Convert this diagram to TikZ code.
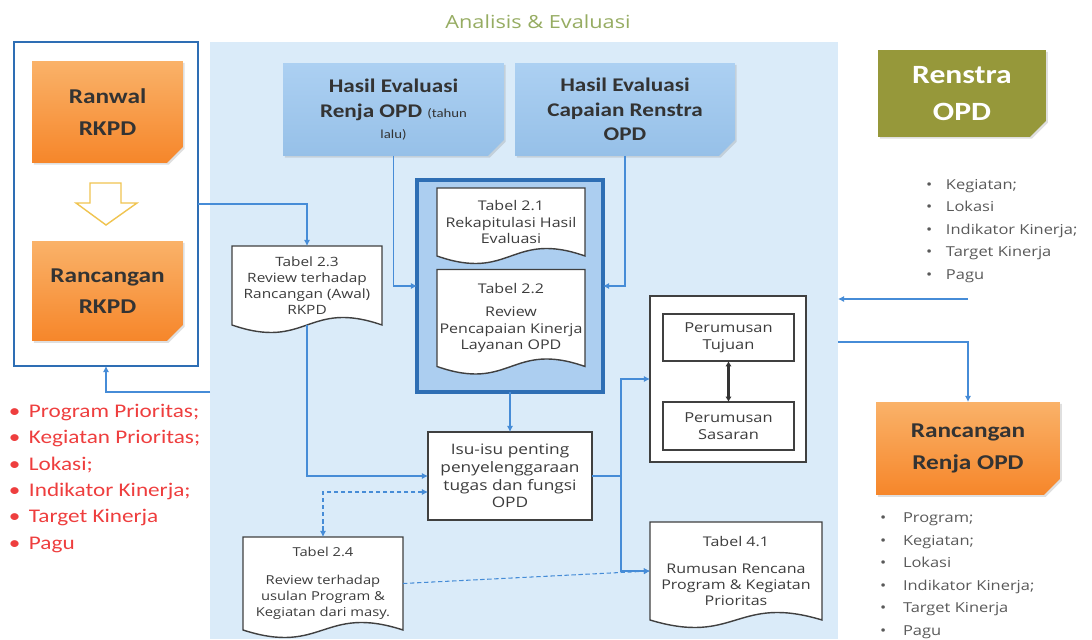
\documentclass[tikz,border=0pt]{standalone}
\usepackage{fontspec}
\setmainfont{Carlito}[FakeStretch=1.2]
\newfontfamily\segoe{Open Sans}[FakeStretch=1.2]
\usetikzlibrary{arrows.meta,positioning,calc,shapes.misc,shadows}
\definecolor{garisbiru}{RGB}{70,140,215}
\definecolor{tepibiru}{RGB}{46,110,180}
\definecolor{latarbiru}{RGB}{218,235,249}
\definecolor{wadahbiru}{RGB}{172,206,240}
\definecolor{hasilatas}{RGB}{172,208,242}
\definecolor{hasilbawah}{RGB}{150,192,232}
\definecolor{oratas}{RGB}{250,178,105}
\definecolor{orbawah}{RGB}{246,134,42}
\definecolor{zaitun}{RGB}{150,152,58}
\definecolor{judulhijau}{RGB}{150,172,98}
\definecolor{merahdaftar}{RGB}{238,62,62}
\definecolor{teksabu}{RGB}{60,60,60}
\pgfdeclarelayer{belakang}
\pgfdeclarelayer{tengah}
\pgfsetlayers{belakang,tengah,main}
\tikzset{
  panel/.style={fill=latarbiru,draw=none,inner sep=0pt,outer sep=0pt},
  bingkai/.style={draw=tepibiru,line width=1.5pt,fill=white,inner sep=0pt,outer sep=0pt},
  wadah/.style={draw=tepibiru,line width=2pt,fill=wadahbiru,inner sep=0pt,outer sep=0pt},
  lipatan/.style={chamfered rectangle,chamfered rectangle corners=south east,
                  chamfered rectangle xsep=1.6mm,chamfered rectangle ysep=1.6mm,
                  inner sep=0pt,outer sep=0pt,align=center,
                  drop shadow={opacity=0.25,shadow xshift=1pt,shadow yshift=-1pt}},
  oranye/.style={lipatan,top color=oratas,bottom color=orbawah,text=black!80,
                 font=\bfseries\fontsize{12}{18}\selectfont},
  hasil/.style={lipatan,top color=hasilatas,bottom color=hasilbawah,text=black!80,
                font=\bfseries\fontsize{11}{14}\selectfont},
  renstra/.style={lipatan,fill=zaitun,text=white,font=\bfseries\fontsize{15}{21}\selectfont},
  dok/.style={inner sep=0pt,outer sep=0pt,align=center,text=teksabu,
              font=\segoe\fontsize{7.6}{9.2}\selectfont},
  dokgaris/.style={draw=black!75,line width=0.8pt,fill=white},
  kotak/.style={draw=black!75,line width=0.8pt,fill=white,inner sep=0pt,outer sep=0pt,
                align=center,text=teksabu,font=\segoe\fontsize{7.8}{9.5}\selectfont,
                drop shadow={opacity=0.2,shadow xshift=0.8pt,shadow yshift=-0.8pt}},
  daftar/.style={inner sep=0pt,outer sep=0pt,align=left,text=black!65,
                 font=\segoe\fontsize{7.8}{12.8}\selectfont},
  merah/.style={inner sep=0pt,outer sep=0pt,align=left,text=merahdaftar,
                font=\fontsize{11}{15}\selectfont},
  panah/.style={draw=garisbiru,line width=0.6pt,-{Latex[length=3.5pt,width=3.5pt]}},
  titik/.style={draw=garisbiru,line width=0.6pt,dash pattern=on 2.5pt off 1.5pt},
  blok/.style={draw={rgb,255:red,240;green,196;blue,80},line width=0.8pt,fill=white},
}
\newcommand{\dokform}[1]{%
  \begin{pgfonlayer}{tengah}
    \draw[dokgaris] (#1.south west) -- (#1.north west) -- (#1.north east) -- (#1.south east)
      .. controls ($(#1.south)+(0,-26)$) and ($(#1.south)+(0,26)$) .. (#1.south west) -- cycle;
  \end{pgfonlayer}}
\newcommand{\butir}[1]{\makebox[#1][l]{\textbullet}}

\begin{document}
\begin{tikzpicture}[x=0.02cm,y=-0.02cm]
  \useasboundingbox (0,0) rectangle (1092,639);
  \begin{pgfonlayer}{belakang}
    \node[panel,minimum width=125.6mm,minimum height=119.4mm] (panel) at (524,340.5) {};
    \node[wadah,minimum width=37.2mm,minimum height=42.4mm] (wadah) at (510,286) {};
  \end{pgfonlayer}
  \node[text=judulhijau,font=\segoe\fontsize{10.3}{12}\selectfont] (judul) at (538,22) {Analisis \& Evaluasi};

  % kiri: RKPD
  \node[bingkai,minimum width=36.8mm,minimum height=64.8mm] (kiri) at (106,204) {};
  \node[oranye,minimum width=30.2mm,minimum height=20.4mm] (ranwal) at (107.5,112) {Ranwal\\RKPD};
  \node[oranye,minimum width=30.2mm,minimum height=20mm] (rkpd) at (107.5,291) {Rancangan\\RKPD};
  \draw[blok] (90,183) -- (121,183) -- (121,203) -- (137,203) -- (106,225) -- (76,203) -- (90,203) -- cycle;

  % atas: hasil evaluasi
  \node[hasil,minimum width=44.2mm,minimum height=18.6mm] (hasil1) at (393.5,109.5)
    {Hasil Evaluasi\\Renja OPD {\mdseries\fontsize{7}{9}\selectfont (tahun}\\[-2pt]{\mdseries\fontsize{7}{9}\selectfont lalu)}};
  \node[hasil,minimum width=44mm,minimum height=18.6mm] (hasil2) at (625,109.5)
    {Hasil Evaluasi\\Capaian Renstra\\OPD};
  \node[renstra,minimum width=33.6mm,minimum height=17.4mm] (renstra) at (962,93.5) {Renstra\\OPD};

  % tabel
  \node[dok,minimum width=30mm,minimum height=15.8mm,font=\segoe\fontsize{7.3}{9}\selectfont] (tab23) at (307,285.5)
    {Tabel 2.3\\Review terhadap\\Rancangan (Awal)\\RKPD};
  \node[dok,minimum width=29.6mm,minimum height=13.6mm] (tab21) at (511,222)
    {Tabel 2.1\\Rekapitulasi Hasil\\Evaluasi};
  \node[dok,minimum width=29.6mm,minimum height=19.4mm] (tab22) at (511,318)
    {Tabel 2.2\\[4pt]Review\\Pencapaian Kinerja\\Layanan OPD};
  \node[dok,minimum width=32mm,minimum height=18.6mm,font=\segoe\fontsize{7}{9}\selectfont] (tab24) at (323,583.5)
    {Tabel 2.4\\[7pt]Review terhadap\\usulan Program \&\\Kegiatan dari masy.};
  \node[dok,minimum width=34.4mm,minimum height=19.6mm] (tab41) at (736,571)
    {Tabel 4.1\\[6pt]Rumusan Rencana\\Program \& Kegiatan\\Prioritas};
  \dokform{tab23}
  \dokform{tab21}
  \dokform{tab22}
  \dokform{tab24}
  \dokform{tab41}

  \node[kotak,minimum width=32.8mm,minimum height=17.6mm,font=\segoe\fontsize{8.2}{10}\selectfont] (isu) at (510,476)
    {Isu-isu penting\\penyelenggaraan\\tugas dan fungsi\\OPD};
  \node[kotak,minimum width=31.2mm,minimum height=33.2mm] (luar) at (728,379) {};
  \node[kotak,minimum width=26.2mm,minimum height=9.4mm] (tujuan) at (728.5,337.5) {Perumusan\\Tujuan};
  \node[kotak,minimum width=26.2mm,minimum height=9.6mm] (sasaran) at (728.5,426) {Perumusan\\Sasaran};
  \node[oranye,minimum width=36.8mm,minimum height=18.6mm] (renja) at (968,448.5) {Rancangan\\Renja OPD};

  % daftar
  \node[merah,anchor=north west] (daftarkiri) at (9,404)
    {\butir{4mm}Program Prioritas;\\\butir{4mm}Kegiatan Prioritas;\\\butir{4mm}Lokasi;\\
     \butir{4mm}Indikator Kinerja;\\\butir{4mm}Target Kinerja\\\butir{4mm}Pagu};
  \node[daftar,anchor=north west] (daftaratas) at (926,179)
    {\butir{4mm}Kegiatan;\\\butir{4mm}Lokasi\\\butir{4mm}Indikator Kinerja;\\
     \butir{4mm}Target Kinerja\\\butir{4mm}Pagu};
  \node[daftar,anchor=north west] (daftarbawah) at (880,513)
    {\butir{4.6mm}Program;\\\butir{4.6mm}Kegiatan;\\\butir{4.6mm}Lokasi\\
     \butir{4.6mm}Indikator Kinerja;\\\butir{4.6mm}Target Kinerja\\\butir{4.6mm}Pagu};

  % penghubung
  \coordinate (k1) at (198,204);
  \coordinate (k2) at (210,392);
  \coordinate (k3) at (968,299);
  \coordinate (k4) at (838,342);
  \coordinate (cabang) at (621,476);
  \draw[panah] (k1) -| (tab23.north);
  \draw[panah] (k2) -| (kiri.south);
  \draw[panah] (hasil1.south) |- (wadah.west);
  \draw[panah] (hasil2.south) |- (wadah.east);
  \draw[panah] (tab23.south) |- (isu.west);
  \draw[panah] (wadah.south) -- (isu.north);
  \draw[titik,{Latex[length=3.5pt,width=3.5pt]}-{Latex[length=3.5pt,width=3.5pt]}]
    ($(isu.west)+(0,16)$) -| (tab24.north);
  \draw[titik,-{Latex[length=3.5pt,width=3.5pt]}] (tab24.east) -- (tab41.west);
  \draw[draw=garisbiru,line width=0.6pt] (isu.east) -- (cabang);
  \draw[panah] (cabang) |- (luar.west);
  \draw[panah] (cabang) |- (tab41.west);
  \draw[draw=black!80,line width=1.3pt,{Latex[length=3pt,width=3.5pt]}-{Latex[length=3pt,width=3.5pt]}]
    (tujuan.south) -- (sasaran.north);
  \draw[panah] (k3) -- (panel.east |- k3);
  \draw[panah] (k4) -| (renja.north);
\end{tikzpicture}
\end{document}
